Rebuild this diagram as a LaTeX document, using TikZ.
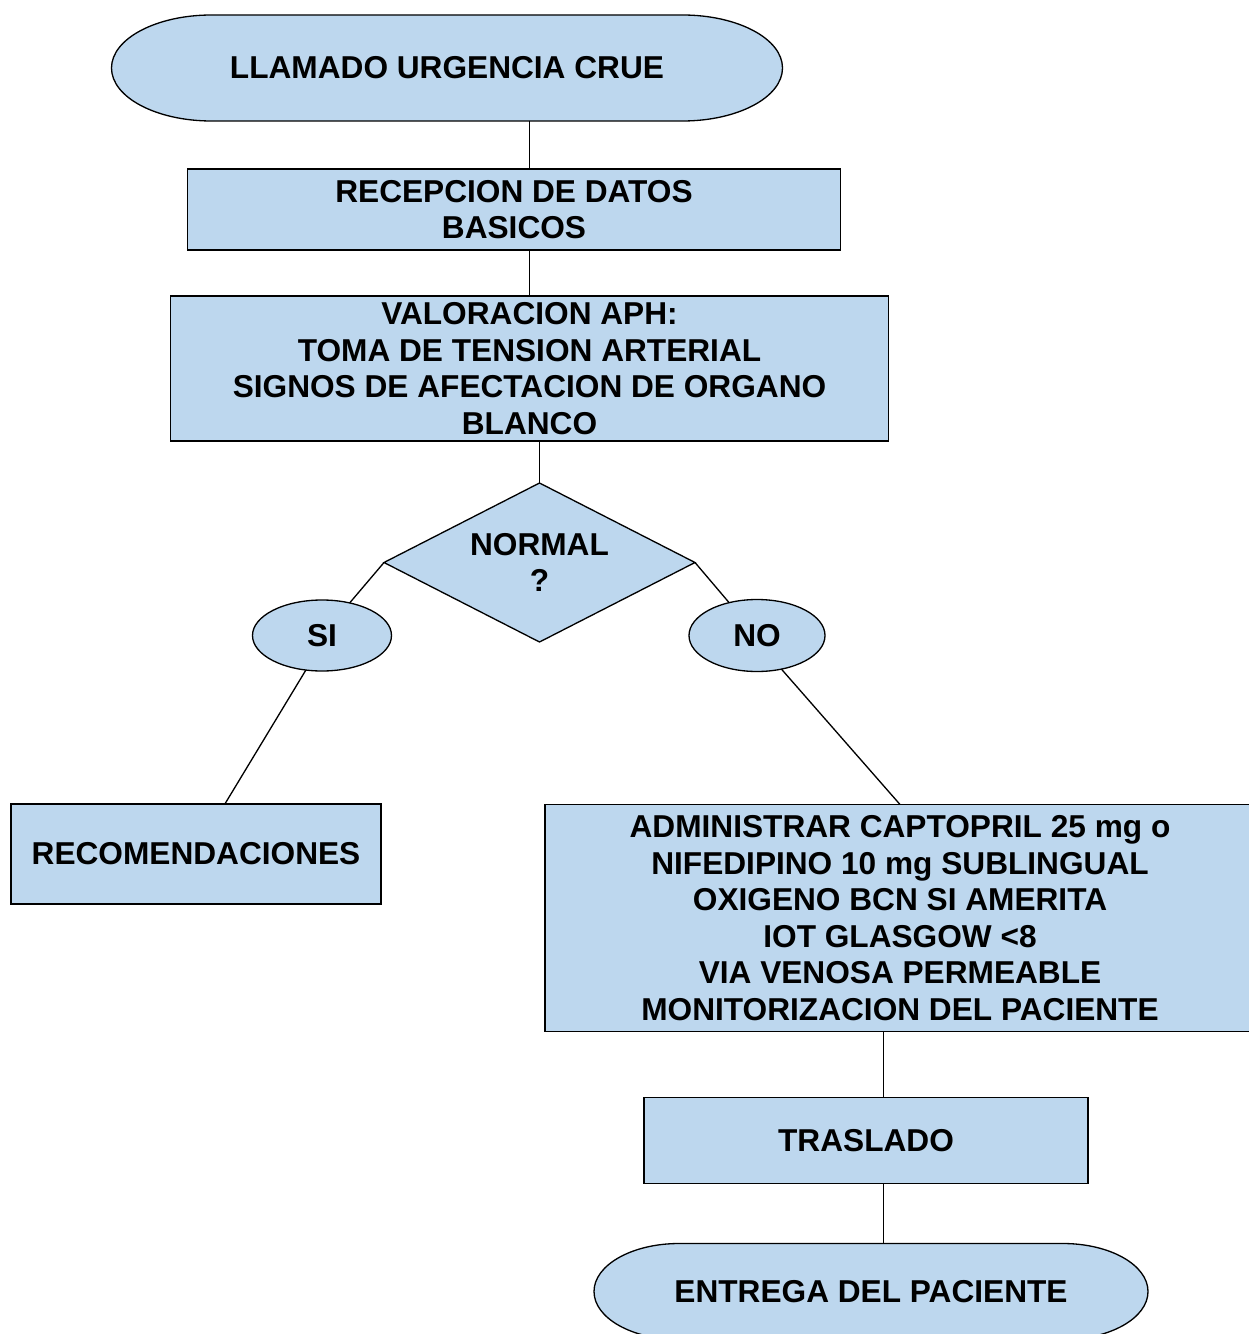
\documentclass[tikz,border=0pt]{standalone}
\usepackage{fontspec}
\setmainfont{Liberation Sans}
\usepackage{tikz}
\usetikzlibrary{positioning,shapes.geometric,calc,backgrounds}

\definecolor{boxblue}{RGB}{189,215,238}

\newcommand{\termoutline}[3]{%
  \filldraw[line width=.75pt,fill=boxblue] ([xshift=#2]#1.north west) -- ([xshift=-#2]#1.north east)
    arc[start angle=90,end angle=-90,x radius=#2,y radius=#3]
    -- ([xshift=#2]#1.south west)
    arc[start angle=270,end angle=90,x radius=#2,y radius=#3] -- cycle;}

\begin{document}
\begin{tikzpicture}[line width=.75pt,
  txt/.style={font=\fontsize{18}{20.8}\selectfont\bfseries,align=center,inner sep=0pt,outer sep=0pt},
  box/.style={txt,rectangle,draw,fill=boxblue},
  terminal/.style={txt,rectangle},
  decision/.style={txt,diamond,aspect=2,draw,fill=boxblue},
  oval/.style={txt,ellipse,draw,fill=boxblue}]

  \useasboundingbox (0,0) rectangle (24.96,-26.68);

  \node[terminal,minimum width=13.42cm,minimum height=2.12cm] (start) at (8.94,-1.36) {LLAMADO URGENCIA CRUE};
  \node[box,minimum width=13.06cm,minimum height=1.62cm] (datos) [below=0.96cm of start,xshift=1.34cm] {RECEPCION DE DATOS\\BASICOS};
  \node[box,minimum width=14.36cm,minimum height=2.9cm] (valor) [below=0.92cm of datos,xshift=0.31cm] {VALORACION APH:\\TOMA DE TENSION ARTERIAL\\SIGNOS DE AFECTACION DE ORGANO\\BLANCO};
  \node[decision,minimum width=6.22cm,minimum height=3.18cm] (normal) [below=0.84cm of valor,xshift=0.2cm] {NORMAL\\?};
  \node[oval,minimum width=2.78cm,minimum height=1.42cm] (si) at ($(normal.west)+(-1.24,-1.46)$) {SI};
  \node[oval,minimum width=2.72cm,minimum height=1.44cm] (no) at ($(normal.east)+(1.24,-1.46)$) {NO};
  \node[box,minimum width=7.4cm,minimum height=2cm] (rec) [below=2.66cm of si,xshift=-2.52cm] {RECOMENDACIONES};
  \node[box,minimum width=14.2cm,minimum height=4.54cm] (admin) [below=2.66cm of no,xshift=2.86cm] {ADMINISTRAR CAPTOPRIL 25 mg o\\NIFEDIPINO 10 mg SUBLINGUAL\\OXIGENO BCN SI AMERITA\\IOT GLASGOW <8\\VIA VENOSA PERMEABLE\\MONITORIZACION DEL PACIENTE};
  \node[box,minimum width=8.88cm,minimum height=1.72cm] (tras) [below=1.32cm of admin,xshift=-0.68cm] {TRASLADO};
  \node[terminal,minimum width=11.08cm,minimum height=1.92cm] (fin) [below=1.2cm of tras,xshift=0.1cm] {ENTREGA DEL PACIENTE};

  \begin{scope}[on background layer]
    \termoutline{start}{2cm}{1.06cm}
    \termoutline{fin}{1.7cm}{0.96cm}
  \end{scope}

  \draw (start.south -| valor.north) -- (datos.north -| valor.north);
  \draw (datos.south -| valor.north) -- (valor.north);
  \draw (valor.south -| normal.north) -- (normal.north);
  \draw (normal.west) -- (si);
  \draw (normal.east) -- (no);
  \draw (si.245) -- (rec.60);
  \draw (no.-54) -- (admin.north);
  \draw (admin.south -| tras.68) -- (tras.68);
  \draw (tras.-68) -- (fin.north -| tras.-68);

\end{tikzpicture}
\end{document}
